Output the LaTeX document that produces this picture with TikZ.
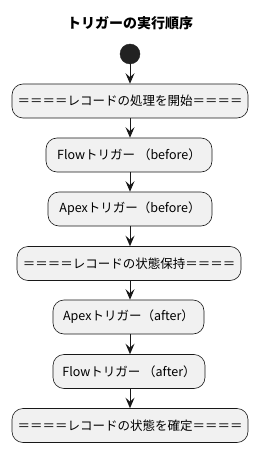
\documentclass[tikz,border=0pt]{standalone}
\usepackage{fontspec}
\setmainfont{Noto Sans CJK JP}
\usetikzlibrary{arrows.meta}
\definecolor{boxfill}{HTML}{F1F1F1}
\definecolor{boxline}{HTML}{181818}
\definecolor{startfill}{HTML}{222222}
\tikzset{
  actbox/.style={draw=boxline, fill=boxfill, line width=0.6pt, rounded corners=11pt,
    minimum height=34pt, inner sep=0pt, font=\fontsize{12.5}{14}\selectfont, text=black},
  flow/.style={draw=boxline, line width=1pt, -{Stealth[length=10.5pt,width=9pt,inset=4pt]}},
}
\begin{document}
\begin{tikzpicture}[x=1pt,y=-1pt]
\useasboundingbox (0,0) rectangle (260,457);
\node[font=\fontsize{14}{16}\selectfont\bfseries] (title) at (130,23) {トリガーの実行順序};
\node[circle, fill=startfill, draw=startfill, minimum size=20pt, inner sep=0pt] (start) at (130,54) {};
\node[actbox, minimum width=236pt] (b1) at (130,101) {＝＝＝＝レコードの処理を開始＝＝＝＝};
\node[actbox, minimum width=166pt] (b2) at (129,155) {Flowトリガー （before）};
\node[actbox, minimum width=164pt] (b3) at (130,209) {Apexトリガー（before）};
\node[actbox, minimum width=224pt] (b4) at (129,263.5) {＝＝＝＝レコードの状態保持＝＝＝＝};
\node[actbox, minimum width=151pt] (b5) at (128.5,317) {Apexトリガー（after）};
\node[actbox, minimum width=152pt] (b6) at (129,371.5) {Flowトリガー （after）};
\node[actbox, minimum width=236pt] (b7) at (130,425.5) {＝＝＝＝レコードの状態を確定＝＝＝＝};
\draw[flow] (start.south) -- (start.south |- b1.north);
\draw[flow] (b1.south -| start) -- (start |- b2.north);
\draw[flow] (b2.south -| start) -- (start |- b3.north);
\draw[flow] (b3.south -| start) -- (start |- b4.north);
\draw[flow] (b4.south -| start) -- (start |- b5.north);
\draw[flow] (b5.south -| start) -- (start |- b6.north);
\draw[flow] (b6.south -| start) -- (start |- b7.north);
\end{tikzpicture}
\end{document}
